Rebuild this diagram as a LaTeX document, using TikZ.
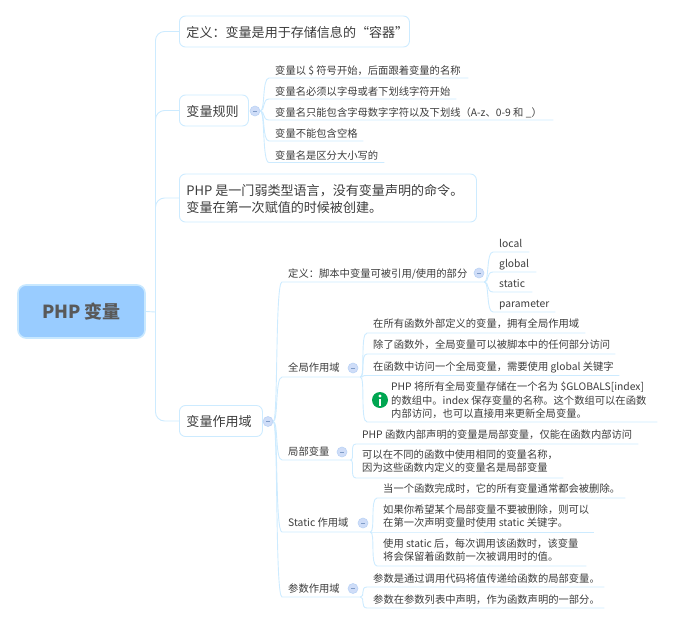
\documentclass[tikz,border=0pt]{standalone}
\usepackage{fontspec}
\setmainfont{Noto Sans CJK SC}
\usetikzlibrary{calc}
\definecolor{linec}{HTML}{CDEBFF}
\definecolor{txt}{HTML}{3C3C3C}
\definecolor{rootfill}{HTML}{99CCFF}
\definecolor{rootedge}{HTML}{C8E8FF}
\definecolor{collfill}{HTML}{CFDDF8}
\definecolor{colledge}{HTML}{BBD3F5}
\definecolor{collbar}{HTML}{7F9CC8}
\definecolor{infogreen}{HTML}{00A651}
\tikzset{
  conn/.style={draw=linec,line width=0.9pt},
  root/.style={draw=rootedge,line width=1.6pt,fill=rootfill,rounded corners=8pt,inner sep=0pt,
    minimum width=127pt,minimum height=53pt,text=txt!85,font=\fontsize{18}{22}\selectfont\bfseries},
  topic/.style={draw=linec,line width=0.9pt,rounded corners=6pt,inner sep=0pt,anchor=west,
    text=txt,font=\fontsize{13.05}{17}\selectfont},
  leaf/.style={inner sep=0pt,anchor=south west,text=txt,font=\fontsize{10.3}{13.5}\selectfont}
}
\tikzset{
  coll/.style={circle,draw=colledge,line width=0.6pt,fill=collfill,minimum size=10pt,inner sep=0pt,
    path picture={\draw[collbar,line width=0.6pt] ($(path picture bounding box.center)+(-2,0)$) -- +(4,0);}}
}
% width, left pad, lines
\newcommand{\padded}[3]{\makebox[\dimexpr#1\relax][l]{\hspace*{#2pt}\raisebox{\dimexpr-0.25em-2pt\relax}[0pt][0pt]{\begin{tabular}{@{}l@{}}#3\end{tabular}}}}
% name, x0, x1, centre y, height, text
\newcommand{\topicbox}[6]{\node[topic,minimum height=#5pt] (#1) at (#2,#4) {\padded{#3pt-#2pt}{7}{#6}};}
% [left pad], name, x0, x1, bottom y, height, text
\newcommand{\leafnode}[7][6]{\node[leaf,minimum height=#6pt] (#2) at (#3,#5) {\padded{#4pt-#3pt}{#1}{#7}};}
% hub point, leaf name
\newcommand{\fan}[2]{\draw[conn] (#1) .. controls +(5,0) and +(-7,0) .. (#2.south west) -- (#2.south east);}
\begin{document}
\begin{tikzpicture}[x=1pt,y=-1pt]
\path[use as bounding box] (0,0) rectangle (673,624);
\node[root] (rootn) at (81.5,311.5) {PHP 变量};
\coordinate (trunk) at (155.5,312);
\topicbox{tdef}{179}{409}{31.5}{31}{定义：变量是用于存储信息的“容器”}
\topicbox{trules}{179}{248}{110.5}{31}{变量规则}
\topicbox{tweak}{179}{476}{198}{48}{PHP 是一门弱类型语言，没有变量声明的命令。\\变量在第一次赋值的时候被创建。}
\topicbox{tscope}{179}{262}{421}{31}{变量作用域}
\draw[conn] (rootn.east) -- (trunk);
\foreach \t in {tdef,trules,tweak,tscope}{\draw[conn,rounded corners=9pt] (trunk) |- (\t.west);}
\node[coll] (crules) at (255,111) {};
\node[coll] (cscope) at (268,421.5) {};
\leafnode{r1}{269}{468}{78}{16}{变量以 \$ 符号开始，后面跟着变量的名称}
\leafnode{r2}{269}{456}{99}{16}{变量名必须以字母或者下划线字符开始}
\leafnode{r3}{269}{553}{120}{16}{变量名只能包含字母数字字符以及下划线（A-z、0-9 和 \_）}
\leafnode{r4}{269}{363}{141}{16}{变量不能包含空格}
\leafnode{r5}{269}{384}{162.5}{16}{变量名是区分大小写的}
\foreach \n in {r1,r2,r3,r4,r5}{\fan{crules.east}{\n}}
\leafnode{sdef}{282}{484}{282}{18}{定义：脚本中变量可被引用/使用的部分}
\leafnode{sglob}{282}{360}{377}{20}{全局作用域}
\leafnode{sloc}{282}{350}{460}{18}{局部变量}
\leafnode{sstat}{282}{370}{532}{20}{Static 作用域}
\leafnode{spar}{282}{360}{597}{18}{参数作用域}
\foreach \n in {sdef,sglob,sloc,sstat,spar}{\fan{cscope.east}{\n}}
\node[coll] (cdef) at (479,273) {};
\node[coll] (cglob) at (353,368) {};
\node[coll] (cloc) at (342,452) {};
\node[coll] (cstat) at (363,523) {};
\node[coll] (cpar) at (353,588.5) {};
\leafnode{d1}{493}{529}{252}{18}{local}
\leafnode{d2}{493}{536}{272}{18}{global}
\leafnode{d3}{493}{532}{292}{18}{static}
\leafnode{d4}{493}{555}{312}{18}{parameter}
\foreach \n in {d1,d2,d3,d4}{\fan{sdef.south east}{\n}}
\leafnode{g1}{367}{585}{333}{20}{在所有函数外部定义的变量，拥有全局作用域}
\leafnode{g2}{367}{615}{354}{20}{除了函数外，全局变量可以被脚本中的任何部分访问}
\leafnode{g3}{367}{619}{375.5}{20}{在函数中访问一个全局变量，需要使用 global 关键字}
\leafnode[24]{g4}{367}{657}{422}{45}{PHP 将所有全局变量存储在一个名为 \$GLOBALS[index]\\的数组中。index 保存变量的名称。这个数组可以在函数\\内部访问，也可以直接用来更新全局变量。}
\foreach \n in {g1,g2,g3,g4}{\fan{sglob.south east}{\n}}
\node[circle,fill=infogreen,minimum size=16pt,inner sep=0pt] (info) at (380,400) {};
\fill[white] ($(info.center)+(-1.3,-1)$) rectangle ($(info.center)+(1.3,5.5)$);
\fill[white] ($(info.center)+(0,-4)$) circle (1.6);
\leafnode{l1}{356}{638}{444}{20}{PHP 函数内部声明的变量是局部变量，仅能在函数内部访问}
\leafnode{l2}{356}{563}{478}{35}{可以在不同的函数中使用相同的变量名称，\\因为这些函数内定义的变量名是局部变量}
\foreach \n in {l1,l2}{\fan{sloc.south east}{\n}}
\leafnode{st1}{377}{625}{498}{20}{当一个函数完成时，它的所有变量通常都会被删除。}
\leafnode{st2}{377}{594}{532}{33}{如果你希望某个局部变量不要被删除，则可以\\在第一次声明变量时使用 static 关键字。}
\leafnode{st3}{377}{586}{566}{33}{使用 static 后，每次调用该函数时，该变量\\将会保留着函数前一次被调用时的值。}
\foreach \n in {st1,st2,st3}{\fan{sstat.south east}{\n}}
\leafnode{p1}{367}{604}{587}{18}{参数是通过调用代码将值传递给函数的局部变量。}
\leafnode{p2}{367}{604}{608}{18}{参数在参数列表中声明，作为函数声明的一部分。}
\foreach \n in {p1,p2}{\fan{spar.south east}{\n}}
\end{tikzpicture}
\end{document}
